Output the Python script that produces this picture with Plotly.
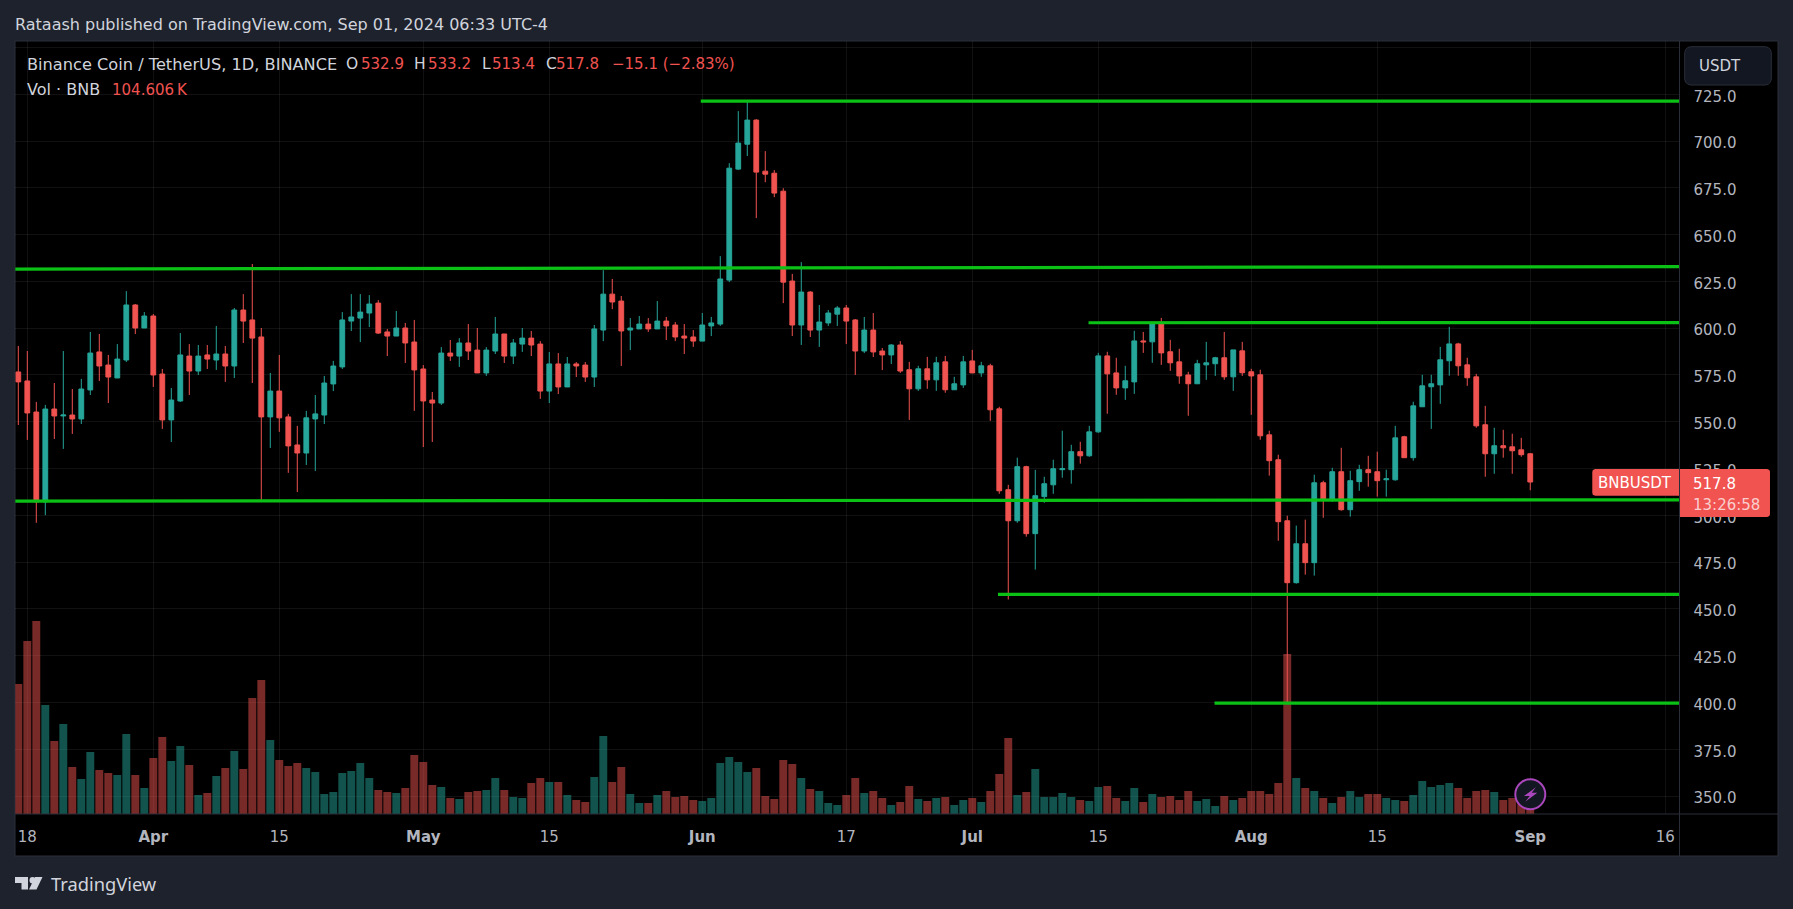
import pandas as pd
import plotly.graph_objects as go
import math

W, H = 1793, 909
PANE_L, PANE_R, PANE_T, PANE_B = 15.3, 1679.5, 41.3, 814.0
FONT = "DejaVu Sans"

start_day = "2024-03-17"
opens = [576.6,571.8,555.2,507.2,556.8,553.1,553.6,551.5,567,587.3,
580.3,573.4,583,612.4,600.1,606.5,575.5,551,561.1,585.1,
577.1,585.7,583,586.2,579.8,609.7,604.4,595.3,552.6,566.4,
552.6,537.6,533.3,551.5,553.6,570.2,579.3,603.8,605.4,608.1,
613.4,598,595.8,600.1,592.6,578.2,561.6,560,586.7,585.1,
592.1,588.3,576.1,587.8,596.9,585.1,591.5,594.7,591.5,566.4,
580.9,568.6,580.9,580.3,573.9,599,618.2,614.5,599,599.6,
602.2,599.6,603.8,601.7,595.8,595.3,593.1,601.2,602.2,625.7,
685,698.3,711.2,683.9,682.8,673.2,625.2,601.7,619.3,599,
602.8,607.5,610.8,604.4,587.8,599,587.8,585.7,591,577.8,
567.6,578.3,572.4,582,567.1,569.7,582.5,576.1,579.9,556.9,
513.7,497.1,526,490.2,510,516.3,524.4,524.4,534,531.8,
544.6,585.2,576.1,568.1,571.3,593.2,592.7,602.3,587.4,582,
575,570.3,580.4,581,584.2,574,587.9,576.7,575.1,543,
529.7,497.1,464,484.8,474.7,517.4,508.3,523.3,503,518,
524.4,523.3,519,519,542,530.8,558,568.7,569.7,582.6,
591.6,580.4,574,548.4,532.9,537.2,536.6,535,532.9]
highs = [590.5,587.8,560.6,559,570.7,587.8,567.5,572.9,598,596.9,
585.7,591.5,619.8,612.9,608.6,607.6,578.2,568,597.4,591.5,
591,591,601.2,590.5,610.8,618.2,634.3,600.1,576.1,585.7,
554.2,547.8,555.8,564.3,574.5,582.5,608.6,618.2,618.2,617.7,
615,599.6,609.2,602.8,604.4,580.3,565.9,589.9,593.7,594.7,
602.2,600.1,589.9,606,596.9,594.2,600.1,598.5,593.1,587.3,
586.7,584.6,581.9,581.9,601.7,631,626.3,617.2,605.4,606.5,
605.4,614.5,606,603.3,602.2,599,608.1,606,638.5,688.2,
716,721.3,711.7,694.6,684.5,674.8,629,635.3,619.8,612.4,
609.7,611.8,612.4,604.9,606,608.1,589.4,591.5,593.1,582,
579.9,584.7,584.7,585.2,574,585.2,588.4,582,581,558,
516.3,530.8,526.5,524.3,520.6,529.7,545.2,537.7,539.3,547.8,
586.8,587.4,584.2,579.9,598.6,598,603.4,605.5,593.8,589,
576.7,583.1,592.7,584.7,598,588.4,592.7,578.3,577.8,545.2,
532.4,499.8,494.5,497.7,521.7,518.5,525.4,536.1,523.8,527,
531.8,534,524.4,547.8,542.5,560.7,575.1,575.1,590,600.7,
592.2,584.2,575.6,558.5,546.8,545.7,543.6,541.4,533.2]
lows = [548.3,540.3,496,500.1,540.8,535.5,543.5,548.8,564.3,571.8,
560,573.4,581.9,596.9,600.1,568.6,546.2,539.2,560.6,564.3,
575,578.2,577.7,571.3,573.4,592.1,570.7,507.7,536,544.6,
522.7,512.5,526.9,523.7,548.8,566.4,578.2,598.5,592.6,600.6,
596.9,585.1,595.8,581.4,555.8,536.5,539.2,559,582.5,579.3,
583,576.1,574.5,586.2,581.4,580.9,587.3,585.1,562.2,560,
564.8,568.6,573.9,571.3,568.6,593.1,610.2,579.8,588.3,599.6,
598,599.6,593.7,593.1,586.2,590,593.1,595.8,601.2,624.6,
684.5,692,658.8,678,670,613.4,595.8,591,595.3,590,
601.2,601.2,591.5,575,586.7,584.6,577.6,580.9,576.1,551,
566.5,567.6,566.5,565.5,567.1,568.1,576.1,574,550.5,511.5,
455,496,488.6,471,506.7,511.5,520.1,516.9,527.6,531.3,
544.1,554.3,564.4,561.7,564.9,586.8,581.5,580.4,577.2,570.3,
553.2,570.3,572.4,574.5,572.4,566.5,574.5,553.7,540.4,521.2,
486.4,400,463.5,468.3,467.8,498.7,507.3,502.5,499.3,513.1,
515.3,510,510,518.5,530.8,529.2,558,546.2,559.6,574.6,
574.6,569.2,546.8,520.6,522.2,530.8,522.2,531.3,513.4]
closes = [571.3,554.7,507.2,556.8,553.1,553.6,551.5,567.5,586.7,579.8,
573.9,583.5,612.4,600.1,606.5,575,551,561.6,585.7,577.1,
585.1,583.5,586.2,579.8,609.7,603.8,594.7,552.6,566.4,552.1,
537.1,533.3,552.1,554.2,570.7,579.8,604.4,606,608.6,612.9,
597.4,595.8,600.1,592.1,577.7,561.1,560,586.7,585.1,592.1,
587.8,576.1,588.3,596.9,585.1,592.1,594.7,591,566.4,580.9,
568.6,580.9,579.8,573.9,599.6,618.2,614,598.5,600.1,602.2,
599.6,603.8,601.2,595.3,594.7,593.1,601.7,602.8,626.3,685.5,
698.9,711.2,683.4,682.3,672.2,624.6,601.7,619.3,599,603.3,
608.1,610.8,603.8,587.8,599,587.3,585.7,591,577.1,567.6,
578.3,572.4,581.5,567.1,570.3,582,576.1,579.9,556.4,513.1,
497.1,526,490.2,510.5,516.9,524.9,524.9,534,531.8,544.6,
585.2,575.6,568.1,571.9,593.2,592.7,602.3,586.8,581.5,574.5,
570.3,581,581.5,584.2,574,588.4,576.2,574.5,542.5,529.2,
496.6,464,484.8,474.7,517.4,508.3,523.3,503,518.5,524.4,
522.8,518.5,519.5,541.4,530.8,558.5,569.2,570.3,583.1,591.6,
579.9,573.5,547.8,532.9,537.2,536.1,534.5,532.4,517.8]
volumes_k = [3120,4152,4632,2616,1752,2160,1128,840,1488,1056,
984,936,1920,936,624,1344,1848,1272,1632,1176,
456,504,912,1104,1512,1080,2784,3216,1776,1296,
1152,1224,1104,1008,480,528,984,1032,1224,864,
576,528,504,624,1416,1248,696,648,384,
360,528,552,576,864,576,408,384,744,864,768,768,456,336,288,888,1872,768,1128,480,
264,264,456,552,408,432,336,312,384,1224,1368,1248,1008,1104,432,360,1296,1200,864,600,
552,264,216,456,864,504,552,384,216,288,
672,360,312,384,408,216,336,384,288,552,960,1824,456,528,1080,408,408,504,408,336,
312,648,672,384,312,624,288,480,408,432,336,552,312,360,192,432,336,384,552,552,
480,744,3840,864,624,552,384,264,408,552,
408,480,480,384,336,312,456,792,648,696,744,624,384,552,576,528,336,384,456,104.6]

price_ticks = [350,375,400,425,450,475,500,525,550,575,600,625,650,675,700,725]
grid_prices = price_ticks + [750]
date_ticks = ["2024-03-18","2024-04-01","2024-04-15","2024-05-01","2024-05-15","2024-06-01","2024-06-17",
              "2024-07-01","2024-07-15","2024-08-01","2024-08-15","2024-09-01","2024-09-16"]
date_labels = ["18","<b>Apr</b>","15","<b>May</b>","15","<b>Jun</b>","17",
               "<b>Jul</b>","15","<b>Aug</b>","15","<b>Sep</b>","16"]

line_starts = ["2024-05-31 20:00","2024-03-16 12:00","2024-07-13 22:00","2024-03-16 12:00","2024-07-03 20:30","2024-07-27 22:00"]
line_ends = ["2024-09-17 14:00"]*6
line_start_prices = [721.3,631.6,602.9,507.6,457.8,399.7]
line_end_prices = [721.3,632.9,603.0,508.3,457.8,399.7]

x_range = ["2024-03-16 16:00","2024-09-17 14:00"]
price_range = [340.4,753.3]
volume_range = [0,18545]

RED, TEAL = "#f05350", "#26a69a"
GREEN = "#0cc116"
TXT = "#d1d4dc"
AXIS_TXT = "#b2b5be"
PAGE = "#1e222d"
BORDER = "#2a2e39"
PURPLE = "#ab47bc"

days = pd.date_range(start_day, periods=len(opens))

def fx(x): return x / W
def fy(y): return 1 - y / H
def poly(points, close=True):
    s = "M " + " L ".join(f"{fx(x):.5f},{fy(y):.5f}" for x, y in points)
    return s + (" Z" if close else "")

def rrect(x0, y0, x1, y1, rl, rr):
    def arc(cx, cy, r, a0):
        return [(cx + r * math.cos(math.radians(a0 + d)), cy + r * math.sin(math.radians(a0 + d))) for d in (0, 30, 60, 90)]
    pts = []
    pts += arc(x0 + rl, y0 + rl, rl, 180) if rl else [(x0, y0)]
    pts += arc(x1 - rr, y0 + rr, rr, 270) if rr else [(x1, y0)]
    pts += arc(x1 - rr, y1 - rr, rr, 0) if rr else [(x1, y1)]
    pts += arc(x0 + rl, y1 - rl, rl, 90) if rl else [(x0, y1)]
    return poly(pts)

fig = go.Figure()

vol_colors = ["rgba(38,166,154,0.5)" if c >= o else "rgba(240,83,80,0.5)" for o, c in zip(opens, closes)]
fig.add_trace(go.Bar(x=days, y=volumes_k, marker=dict(color=vol_colors, line=dict(width=0)), yaxis="y", hoverinfo="skip"))

for xs, xe, ps, pe in zip(line_starts, line_ends, line_start_prices, line_end_prices):
    fig.add_trace(go.Scatter(x=[xs, xe], y=[ps, pe], mode="lines", yaxis="y2",
                             line=dict(color=GREEN, width=3.2), hoverinfo="skip"))

fig.add_trace(go.Candlestick(
    x=days, open=opens, high=highs, low=lows, close=closes, yaxis="y2",
    increasing=dict(line=dict(color=TEAL, width=1), fillcolor=TEAL),
    decreasing=dict(line=dict(color=RED, width=1), fillcolor=RED),
    whiskerwidth=0, hoverinfo="skip"))

shapes = [
    dict(type="rect", xref="paper", yref="paper", x0=fx(15), x1=fx(1778), y0=fy(856), y1=fy(41),
         fillcolor="#000000", line=dict(color=BORDER, width=1), layer="below"),
    dict(type="line", xref="paper", yref="paper", x0=fx(15), x1=fx(1778), y0=fy(814), y1=fy(814),
         line=dict(color=BORDER, width=1), layer="above"),
    dict(type="line", xref="paper", yref="paper", x0=fx(PANE_R), x1=fx(PANE_R), y0=fy(856), y1=fy(41),
         line=dict(color=BORDER, width=1), layer="above"),
    dict(type="path", xref="paper", yref="paper", path=rrect(1684.7, 46.7, 1771.3, 85, 6, 6),
         fillcolor="#131722", line=dict(color=BORDER, width=1), layer="above"),
    dict(type="path", xref="paper", yref="paper", path=rrect(1592.3, 469, 1679, 495.7, 3, 0),
         fillcolor=RED, line=dict(width=0), layer="above"),
    dict(type="path", xref="paper", yref="paper", path=rrect(1680, 469, 1770, 517, 0, 3),
         fillcolor=RED, line=dict(width=0), layer="above"),
    dict(type="circle", xref="paper", yref="paper", x0=fx(1530.3-15), x1=fx(1530.3+15), y0=fy(794.3+15), y1=fy(794.3-15),
         fillcolor="#131722", line=dict(color=PURPLE, width=2), layer="above"),
    dict(type="path", xref="paper", yref="paper",
         path=poly([(1536,787.3),(1524,796),(1529.7,796),(1525.3,801.7),(1537.3,792.7),(1531.7,792.7)]),
         fillcolor=PURPLE, line=dict(width=0), layer="above"),
    dict(type="path", xref="paper", yref="paper",
         path=poly([(15,877),(28,877),(28,889.5),(21.5,889.5),(21.5,883),(15,883)]),
         fillcolor=TXT, line=dict(width=0), layer="above"),
    dict(type="circle", xref="paper", yref="paper", x0=fx(29.5), x1=fx(35.5), y0=fy(883.5), y1=fy(877),
         fillcolor=TXT, line=dict(width=0), layer="above"),
    dict(type="path", xref="paper", yref="paper",
         path=poly([(29,889.5),(35,877),(42.5,877),(36.5,889.5)]),
         fillcolor=TXT, line=dict(width=0), layer="above"),
]

def label(x, y, text, color=TXT, size=15, anchor="left", family=FONT):
    return dict(xref="paper", yref="paper", x=fx(x - 2), y=fy(y), text=text, showarrow=False,
                xanchor=anchor, yanchor="middle", align=anchor,
                font=dict(family=family, size=size, color=color))

annotations = [
    label(15, 24.5, "Rataash published on TradingView.com, Sep 01, 2024 06:33 UTC-4", TXT, 16),
    label(27, 64, "Binance Coin / TetherUS, 1D, BINANCE", TXT, 16.2),
    label(345.5, 64, "O", TXT, 15.5), label(361, 64, "532.9", RED, 15),
    label(414, 64, "H", TXT, 15.5), label(428, 64, "533.2", RED, 15),
    label(482, 64, "L", TXT, 15.5), label(491.5, 64, "513.4", RED, 15),
    label(545.5, 64, "C", TXT, 15.5), label(555.5, 64, "517.8", RED, 15),
    label(612, 64, "\u221215.1 (\u22122.83%)", RED, 15),
    label(27, 90, "Vol \u00b7 BNB", TXT, 16),
    label(112, 90, "104.606\u2009K", RED, 15),
    label(1699, 66, "USDT", TXT, 15),
    label(1598, 483, "BNBUSDT", "#ffffff", 15),
    label(1693, 484, "517.8", "#ffffff", 15),
    label(1693, 504.5, "13:26:58", "rgba(255,255,255,0.72)", 15),
    label(51, 883, "TradingView", TXT, 18.3, family="Noto Sans"),
]

fig.update_layout(
    width=W, height=H, autosize=False, showlegend=False,
    margin=dict(l=0, r=0, t=0, b=0),
    paper_bgcolor=PAGE, plot_bgcolor="rgba(0,0,0,0)",
    bargap=0.12, boxgap=0.24,
    shapes=shapes, annotations=annotations,
    font=dict(family=FONT, color=AXIS_TXT),
    xaxis=dict(domain=[fx(PANE_L), fx(PANE_R)], type="date", range=x_range,
               tickmode="array", tickvals=date_ticks, ticktext=date_labels,
               tickfont=dict(family=FONT, size=15, color=AXIS_TXT), ticks="outside", ticklen=9,
               tickcolor="rgba(0,0,0,0)", showgrid=True, gridcolor="rgba(242,242,242,0.07)", gridwidth=1,
               zeroline=False, showline=False, rangeslider=dict(visible=False), fixedrange=True),
    yaxis=dict(domain=[fy(PANE_B), fy(PANE_T)], range=volume_range, showticklabels=False, ticks="",
               showgrid=False, zeroline=False, showline=False, fixedrange=True),
    yaxis2=dict(domain=[fy(PANE_B), fy(PANE_T)], overlaying="y", side="right", anchor="x", range=price_range,
                tickmode="array", tickvals=grid_prices,
                ticktext=[f"{p:.1f}" for p in grid_prices[:-1]] + [""],
                tickfont=dict(family=FONT, size=15, color=AXIS_TXT), ticks="outside", ticklen=10,
                ticklabelshift=2,
                tickcolor="rgba(0,0,0,0)", showgrid=True, gridcolor="rgba(242,242,242,0.07)", gridwidth=1,
                zeroline=False, showline=False, fixedrange=True),
)

fig.write_html("out.html", config=dict(displayModeBar=False),
               post_script="document.body.style.margin='0';document.body.style.background='#1e222d';document.body.style.overflow='hidden';")
